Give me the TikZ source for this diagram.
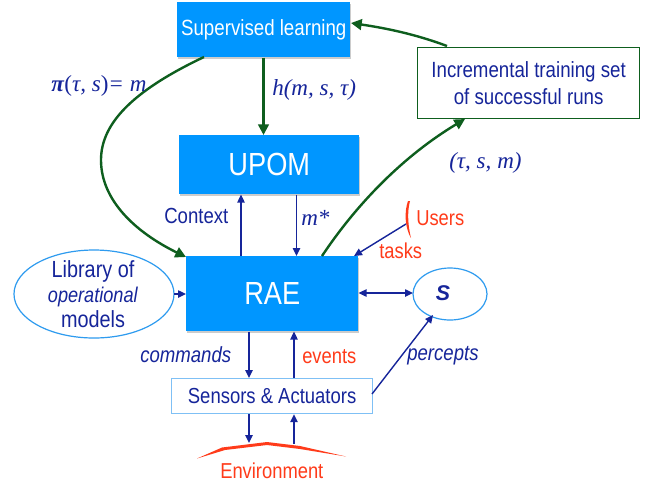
\documentclass[tikz,border=0pt]{standalone}
\usepackage{fontspec}
\setmainfont{Liberation Sans}
\newfontfamily\sansc[FakeStretch=0.85]{Liberation Sans}
\newfontfamily\serifi[Ligatures=TeX]{Liberation Serif}
\usetikzlibrary{arrows.meta,shadows}
\definecolor{boxblue}{HTML}{0096FF}
\definecolor{inkblue}{HTML}{16259A}
\definecolor{deepgreen}{HTML}{0E5E1E}
\definecolor{redink}{HTML}{FF3B1A}
\definecolor{paleblue}{HTML}{7FC0F5}
\definecolor{ringblue}{HTML}{2E9BEF}
\tikzset{
  mainbox/.style={fill=boxblue,text=white,inner sep=0pt,anchor=north west,font=\sansc,
    drop shadow={shadow xshift=0.5pt,shadow yshift=-1pt,opacity=0.4}},
  bluelab/.style={text=inkblue,inner sep=0pt,font=\sansc\fontsize{16.4}{19}\selectfont},
  redlab/.style={text=redink,inner sep=0pt,font=\sansc\fontsize{16.2}{19}\selectfont},
  mathlab/.style={text=inkblue,inner sep=0pt,font=\serifi\itshape\fontsize{17.3}{20}\selectfont},
  bluearrow/.style={draw=inkblue,line width=1.05pt,-{Triangle[length=6pt,width=5.5pt]}},
  bluetwo/.style={draw=inkblue,line width=1.05pt,{Triangle[length=6pt,width=5.5pt]}-{Triangle[length=6pt,width=5.5pt]}},
  greenarrow/.style={draw=deepgreen,line width=1.8pt,-{Triangle[length=8pt,width=8pt]}},
}
\begin{document}
\begin{tikzpicture}[x=0.75pt,y=-0.75pt]
\useasboundingbox (0,0) rectangle (660,487);
\fill[white] (0,0) rectangle (660,487);
% boxes
\node[mainbox,minimum width=129.75pt,minimum height=41.25pt,font=\sansc\fontsize{16.5}{20}\selectfont] (sup) at (177,2) {Supervised learning};
\node[mainbox,minimum width=135pt,minimum height=44.25pt,font=\sansc\fontsize{24}{28}\selectfont] (upom) at (179,135) {UPOM};
\node[mainbox,minimum width=129pt,minimum height=56.25pt,font=\sansc\fontsize{24}{28}\selectfont] (rae) at (186,256) {RAE};
\node[draw=paleblue,line width=0.9pt,fill=white,text=inkblue,inner sep=0pt,anchor=north west,minimum width=150.75pt,minimum height=26.25pt,font=\sansc\fontsize{16.3}{18}\selectfont] (sens) at (171,378) {Sensors \& Actuators};
\node[draw=deepgreen,line width=0.9pt,fill=white,text=inkblue,inner sep=0pt,anchor=north west,minimum width=166.5pt,minimum height=53.25pt,align=center,font=\sansc\fontsize{16.5}{20}\selectfont] (train) at (417,47) {Incremental training set\\of successful runs};
\draw[ringblue,line width=0.9pt,fill=white] (94,294) ellipse [x radius=80,y radius=44];
\node[text=inkblue,inner sep=0pt,align=center,font=\sansc\fontsize{17.5}{19}\selectfont] (lib) at (93,294) {Library of\\{\fontsize{16}{19}\selectfont\textit{operational}}\\models};
\coordinate (libe) at (174,294);
\draw[ringblue,line width=0.9pt,fill=white] (450,294) ellipse [x radius=37,y radius=26];
\node[text=inkblue,inner sep=0pt,font=\bfseries\itshape\fontsize{16}{18}\selectfont] (state) at (443,293) {S};
\coordinate (statew) at (413,293);
\coordinate (states) at (433,315);
% helper coordinates
\coordinate (xa) at (241,0);
\coordinate (xb) at (296.5,0);
\coordinate (xc) at (249,0);
\coordinate (xd) at (294,0);
\coordinate (xs) at (263.5,0);
\coordinate (envl) at (249,443);
\coordinate (envr) at (294,444);
\coordinate (usr) at (406,224);
\coordinate (raeu) at (354,256);
\coordinate (sensr) at (372,394);
% brush strokes
\fill[redink] (408,201) .. controls (404,212) and (405,228) .. (411,238) .. controls (408,226) and (407,212) .. (410,201) -- cycle;
\fill[redink] (197,458.5) -- (222,447.5) -- (267,442) -- (300,446) -- (346,456.5) -- (300,449) -- (267,445) -- (225,450) -- cycle;
% blue connectors
\draw[bluearrow] (rae.north -| xa) -- (upom.south -| xa);
\draw[bluearrow] (upom.south -| xb) -- (rae.north -| xb);
\draw[bluearrow] (rae.south -| xc) -- (sens.north -| xc);
\draw[bluearrow] (sens.north -| xd) -- (rae.south -| xd);
\draw[bluearrow] (sens.south -| xc) -- (envl);
\draw[bluearrow] (envr) -- (sens.south -| xd);
\draw[bluearrow] (libe) -- (rae.west |- libe);
\draw[bluetwo] (rae.east |- statew) -- (statew);
\draw[bluearrow] (sensr) -- (states);
\draw[bluearrow] (usr) -- (raeu);
% green connectors
\coordinate (supa) at (204,57);
\coordinate (raea) at (186,257);
\coordinate (raeb) at (322,256);
\coordinate (trainb) at (465,119);
\coordinate (traint) at (447,46);
\coordinate (supe) at (351,23);
\draw[greenarrow] (sup.south -| xs) -- (upom.north -| xs);
\draw[greenarrow] (supa) .. controls (130,92) and (101,125) .. (101,160) .. controls (101,200) and (135,232) .. (raea);
\draw[greenarrow] (raeb) .. controls (358,202) and (405,155) .. (trainb);
\draw[greenarrow] (traint) .. controls (415,34) and (385,28) .. (supe);
% labels
\node[mathlab,anchor=west] (pilab) at (51,86) {\textbf{π}\textup{(}τ, s\textup{)}= m};
\node[mathlab,anchor=west] (hlab) at (272,90) {h(m, s, τ)};
\node[mathlab,anchor=west] (tsm) at (449,163) {(τ, s, m)};
\node[mathlab,anchor=west] (mstar) at (301,218) {m*};
\node[bluelab,anchor=west] (ctx) at (164,216) {Context};
\node[redlab,anchor=west] (users) at (416,218) {Users};
\node[redlab,anchor=west] (tasks) at (379,251) {tasks};
\node[bluelab,anchor=west,font=\sansc\itshape\fontsize{16.4}{19}\selectfont] (cmd) at (140,355) {commands};
\node[redlab,anchor=west] (evt) at (302,357) {events};
\node[bluelab,anchor=west,font=\sansc\itshape\fontsize{16.4}{19}\selectfont] (perc) at (407,356) {percepts};
\node[redlab,anchor=west] (env) at (220,471) {Environment};
\end{tikzpicture}
\end{document}
